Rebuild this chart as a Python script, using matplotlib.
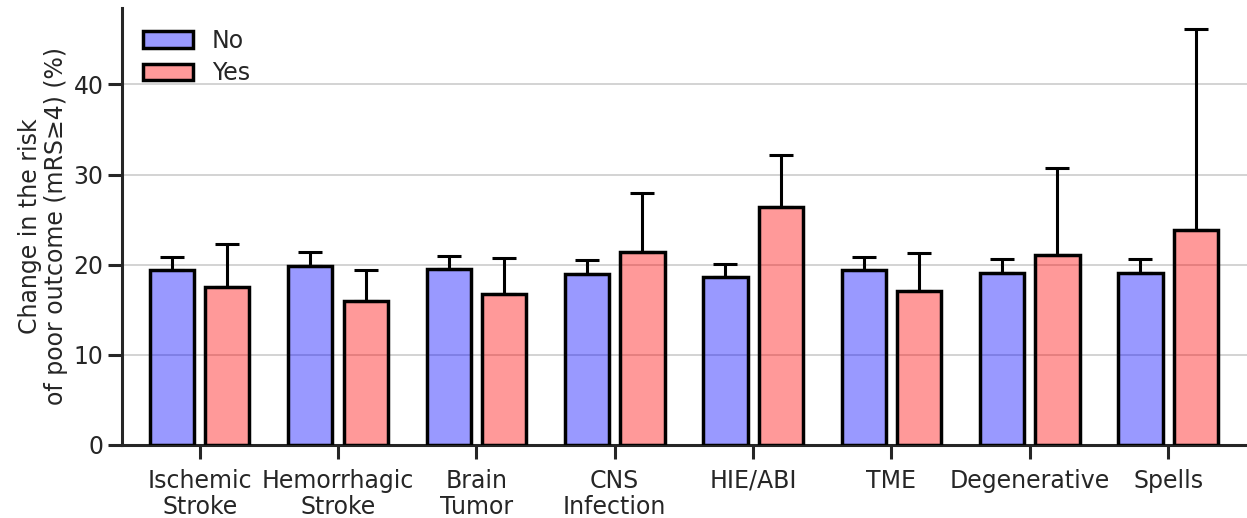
import numpy as np
import matplotlib
matplotlib.use("Agg")
import matplotlib.pyplot as plt
from matplotlib.patches import Patch
import seaborn as sns

# values
categories = ["Ischemic\nStroke", "Hemorrhagic\nStroke", "Brain\nTumor", "CNS\nInfection",
              "HIE/ABI", "TME", "Degenerative", "Spells"]
no_vals = [19.4, 19.8, 19.5, 19.0, 18.6, 19.4, 19.1, 19.1]
no_upper = [20.8, 21.4, 21.0, 20.5, 20.1, 20.9, 20.6, 20.6]
yes_vals = [17.5, 16.0, 16.7, 21.4, 26.4, 17.1, 21.1, 23.9]
yes_upper = [22.3, 19.4, 20.7, 27.9, 32.2, 21.3, 30.7, 46.1]

sns.set_theme(style="ticks", context="talk")
plt.rcParams["font.family"] = ["DejaVu Sans"]
plt.rcParams["axes.linewidth"] = 2.2

fig = plt.figure(figsize=(12.47, 5.18), dpi=100)
ax = fig.add_axes([0.098, 0.141, 0.902, 0.844])

x = np.arange(len(categories))
w = 0.32
off = 0.2

no_err = [np.zeros(len(x)), np.array(no_upper) - np.array(no_vals)]
yes_err = [np.zeros(len(x)), np.array(yes_upper) - np.array(yes_vals)]

ax.bar(x - off, no_vals, w, color="blue", alpha=0.4, zorder=3)
ax.bar(x + off, yes_vals, w, color="red", alpha=0.4, zorder=3)
# outlines drawn separately so the edge stays fully black
ax.bar(x - off, no_vals, w, fill=False, edgecolor="black", linewidth=2.5, zorder=4)
ax.bar(x + off, yes_vals, w, fill=False, edgecolor="black", linewidth=2.5, zorder=4)
ax.errorbar(x - off, no_vals, yerr=no_err, fmt="none", ecolor="black",
            elinewidth=2.2, capsize=8.5, capthick=2.2, zorder=2)
ax.errorbar(x + off, yes_vals, yerr=yes_err, fmt="none", ecolor="black",
            elinewidth=2.2, capsize=8.5, capthick=2.2, zorder=2)

ax.set_xticks(x)
ax.set_xticklabels(categories, fontsize=17, linespacing=1.15)
ax.set_xlim(-0.56, 7.57)
ax.set_ylim(0, 48.5)
ax.set_yticks([0, 10, 20, 30, 40])
ax.tick_params(axis="both", labelsize=17, length=10, width=2.2)
ax.tick_params(axis="x", pad=7)
ax.set_ylabel("Change in the risk\nof poor outcome (mRS≥4) (%)", fontsize=17,
              linespacing=1.1)
ax.yaxis.grid(True, color="#cccccc", linewidth=1.2, zorder=0)
ax.set_axisbelow(True)

handles = [Patch(facecolor="#9999ff", edgecolor="black", linewidth=2.5, label="No"),
           Patch(facecolor="#ff9999", edgecolor="black", linewidth=2.5, label="Yes")]
ax.legend(handles=handles, loc="upper left", frameon=False, fontsize=17,
          handlelength=2.1, labelspacing=0.35, bbox_to_anchor=(0.0, 1.0))

sns.despine(ax=ax)
fig.savefig("out.png", dpi=100)
